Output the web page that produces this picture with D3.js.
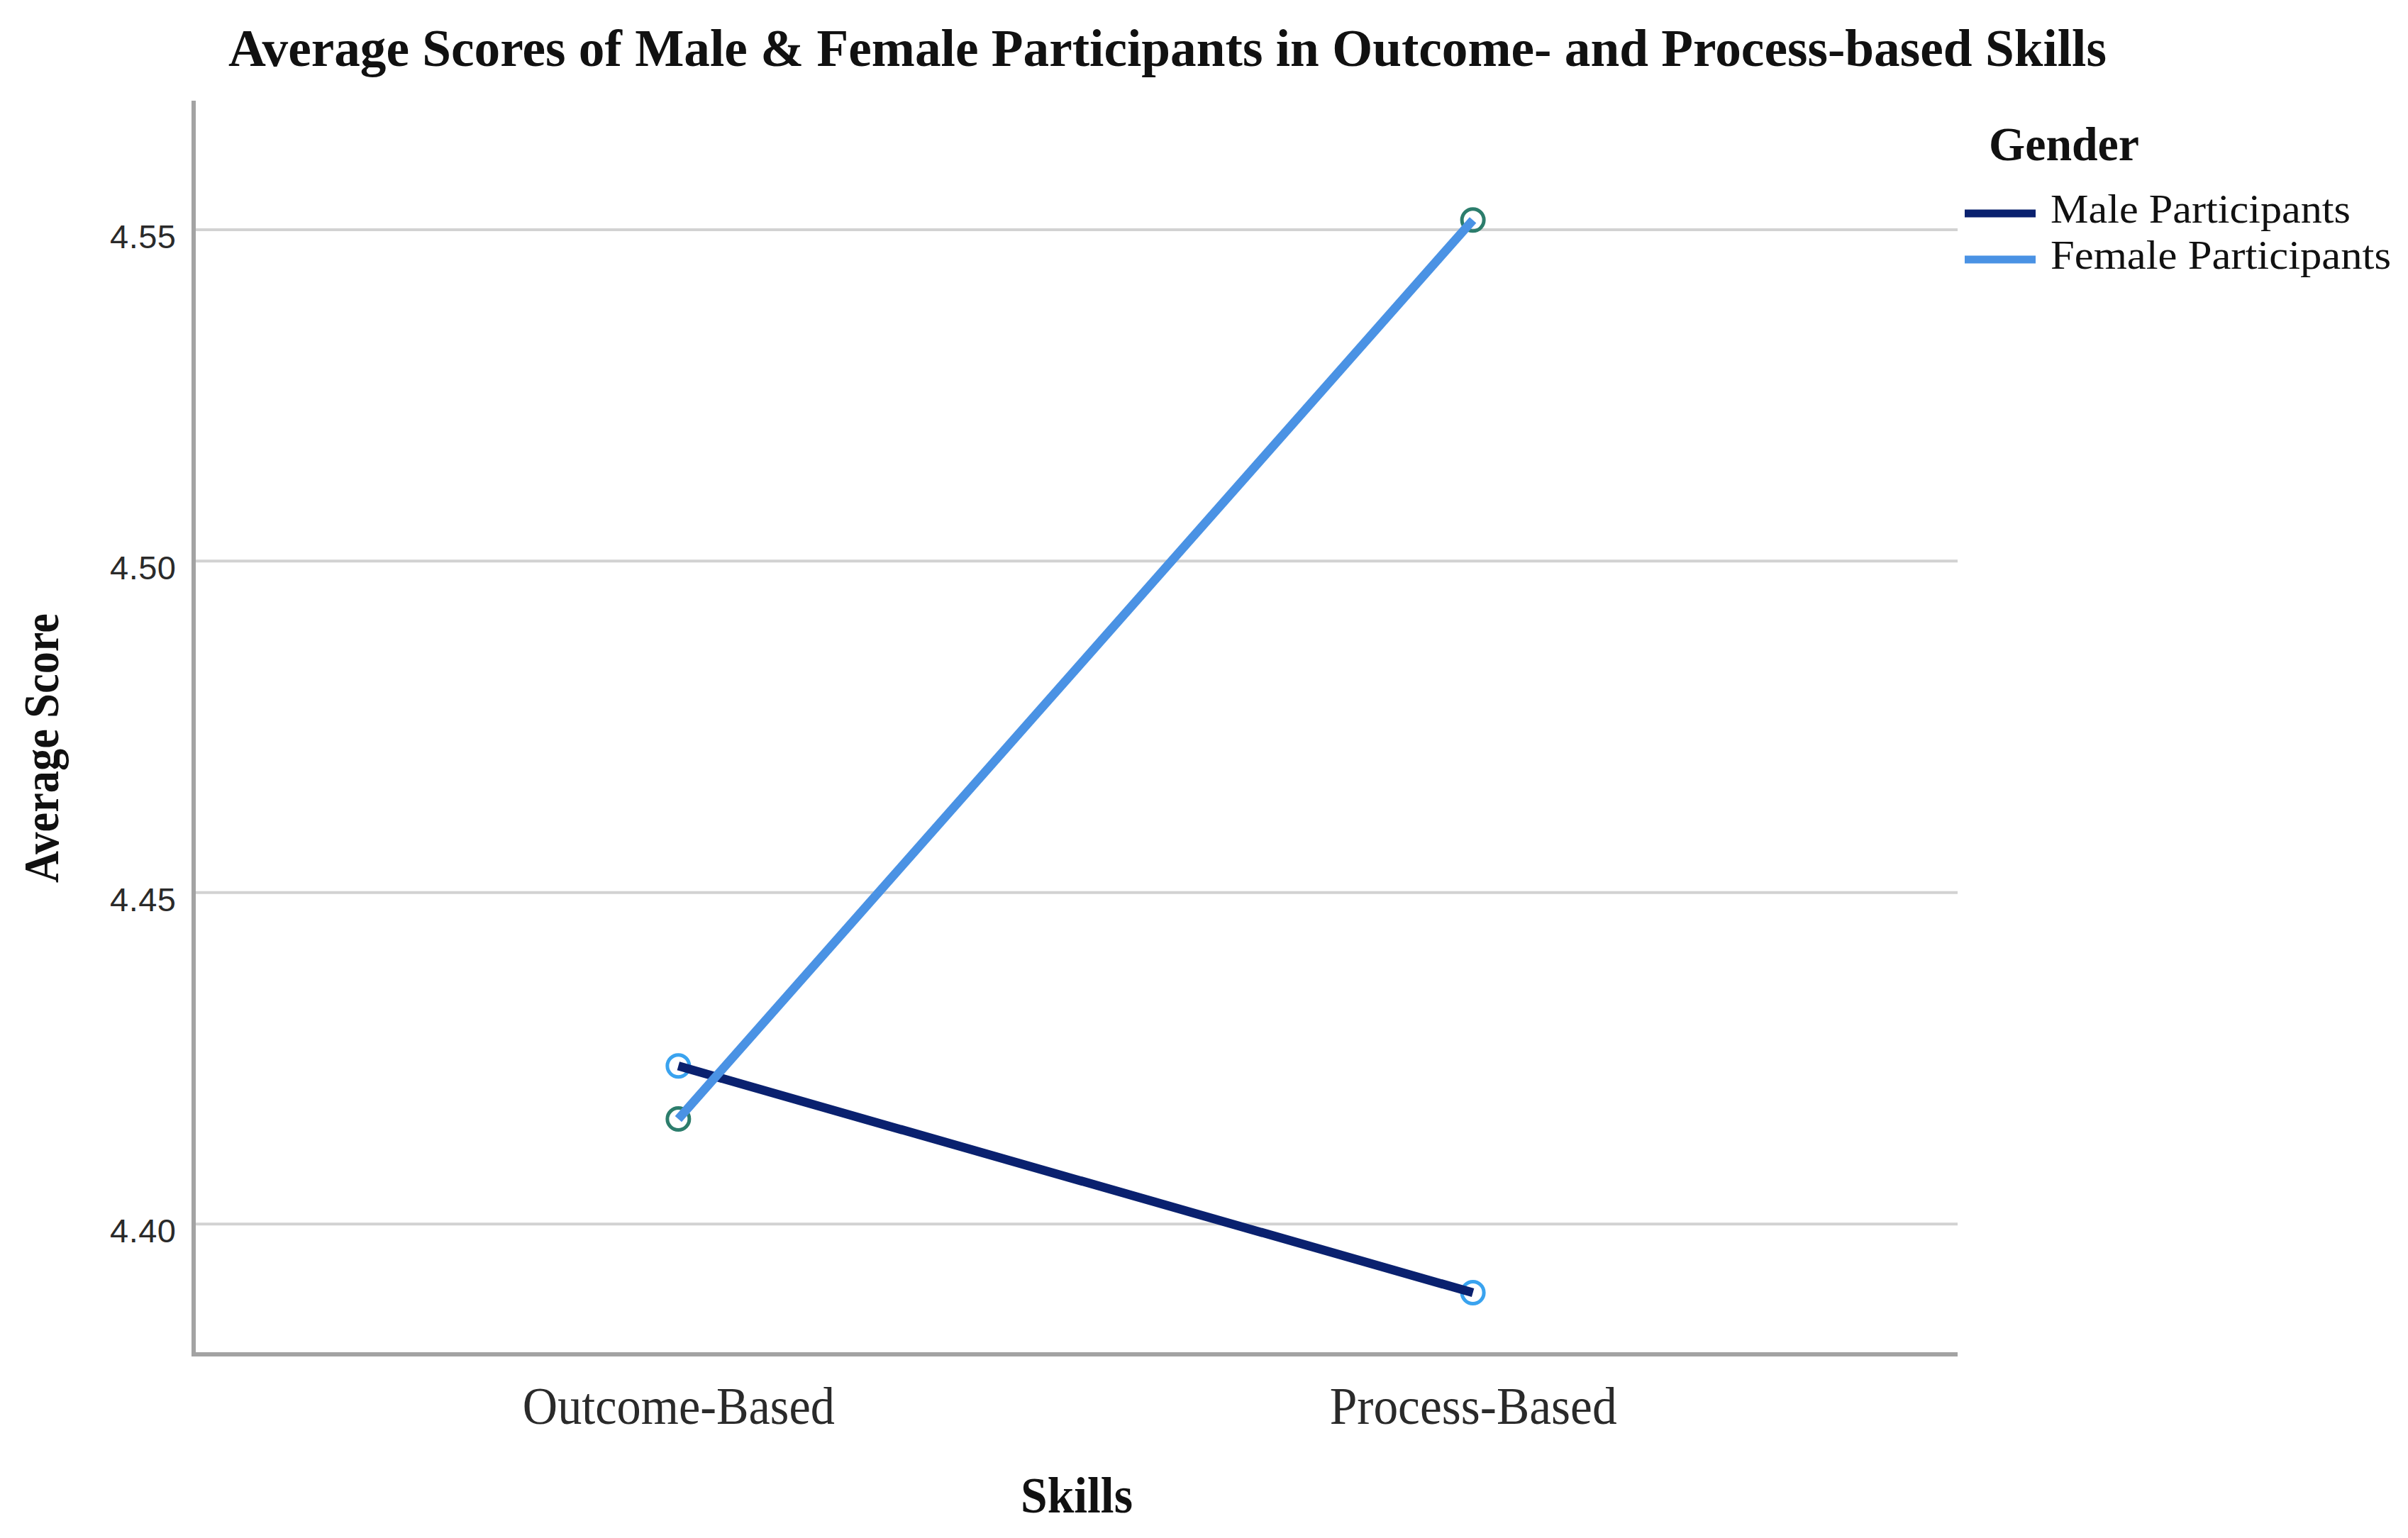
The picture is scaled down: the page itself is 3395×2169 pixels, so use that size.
<!DOCTYPE html>
<html>
<head>
<meta charset="utf-8">
<script src="https://cdn.jsdelivr.net/npm/d3@7/dist/d3.min.js"></script>
<style>
  html, body { margin: 0; padding: 0; background: #ffffff; }
  svg { display: block; }
</style>
</head>
<body>
<script>
// ---- Data ----
const categories = ["Outcome-Based", "Process-Based"];
const seriesNames = ["Male Participants", "Female Participants"];
const maleScores = [4.4238, 4.3896];
const femaleScores = [4.4158, 4.5514];
const yTicks = [4.40, 4.45, 4.50, 4.55];
const yDomain = [4.3803, 4.5694];

const chartTitle = "Average Scores of Male & Female Participants in Outcome- and Process-based Skills";
const xTitle = "Skills";
const yTitle = "Average Score";
const legendTitle = "Gender";

// ---- Layout ----
const W = 3395, H = 2169;
const plot = { left: 273, right: 2760, top: 142, bottom: 1910 };
const lineColors = ["#0a216f", "#4a92e4"];
const markerColors = ["#3aa3ef", "#2c7d6c"];
const serif = "'Liberation Serif', 'Times New Roman', serif";
const xLabelWidths = [440, 405];

const svg = d3.select("body").append("svg")
  .attr("width", W).attr("height", H);

const x = d3.scalePoint().domain(categories).range([plot.left, plot.right]).padding(0.61);
const y = d3.scaleLinear().domain(yDomain).range([plot.bottom, plot.top]);

// gridlines
const grid = svg.append("g")
  .attr("transform", `translate(${plot.left},0)`)
  .call(d3.axisLeft(y).tickValues(yTicks).tickSize(-(plot.right - plot.left)).tickFormat(""));
grid.select(".domain").remove();
grid.selectAll(".tick line").attr("stroke", "#d2d2d2").attr("stroke-width", 4);

// y tick labels
const yAx = svg.append("g")
  .attr("transform", `translate(${plot.left - 25},0)`)
  .call(d3.axisLeft(y).tickValues(yTicks).tickSize(0).tickFormat(d3.format(".2f")));
yAx.select(".domain").remove();
yAx.selectAll(".tick text")
  .attr("x", 0).attr("dy", 0).attr("y", 26)
  .attr("text-anchor", "end")
  .attr("textLength", 93).attr("lengthAdjust", "spacing")
  .style("font-family", "'Liberation Sans', Arial, sans-serif")
  .style("font-size", "47px")
  .attr("fill", "#2a2a2a");

// axes lines
svg.append("line")
  .attr("x1", plot.left).attr("x2", plot.left)
  .attr("y1", plot.top).attr("y2", plot.bottom + 2)
  .attr("stroke", "#a3a3a3").attr("stroke-width", 6);
svg.append("line")
  .attr("x1", plot.left - 3).attr("x2", plot.right)
  .attr("y1", plot.bottom).attr("y2", plot.bottom)
  .attr("stroke", "#a3a3a3").attr("stroke-width", 6);

// x tick labels
const xAx = svg.append("g")
  .attr("transform", `translate(0,${plot.bottom})`)
  .call(d3.axisBottom(x).tickSize(0));
xAx.select(".domain").remove();
xAx.selectAll(".tick text")
  .attr("y", 98).attr("dy", 0)
  .attr("text-anchor", "middle")
  .attr("textLength", (d, i) => xLabelWidths[i]).attr("lengthAdjust", "spacingAndGlyphs")
  .style("font-family", serif)
  .style("font-size", "74px")
  .attr("fill", "#2a2a2a");

// series
const series = [maleScores, femaleScores].map((vals, i) => ({
  name: seriesNames[i],
  color: lineColors[i],
  marker: markerColors[i],
  points: vals.map((v, j) => ({ cat: categories[j], v }))
}));

const line = d3.line().x(d => x(d.cat)).y(d => y(d.v));

// markers first (lines drawn over them)
series.forEach(s => {
  svg.append("g").selectAll("circle")
    .data(s.points).enter().append("circle")
    .attr("cx", d => x(d.cat)).attr("cy", d => y(d.v))
    .attr("r", 15.5)
    .attr("fill", "none")
    .attr("stroke", s.marker).attr("stroke-width", 5);
});
series.forEach(s => {
  svg.append("path")
    .datum(s.points)
    .attr("d", line)
    .attr("fill", "none")
    .attr("stroke", s.color)
    .attr("stroke-width", 12.5);
});

// title
svg.append("text")
  .attr("x", 1646).attr("y", 93)
  .attr("text-anchor", "middle")
  .attr("textLength", 2648).attr("lengthAdjust", "spacingAndGlyphs")
  .style("font-family", serif).style("font-weight", "bold").style("font-size", "74px")
  .attr("fill", "#111")
  .text(chartTitle);

// x axis title
svg.append("text")
  .attr("x", 1518).attr("y", 2133)
  .attr("text-anchor", "middle")
  .attr("textLength", 158).attr("lengthAdjust", "spacingAndGlyphs")
  .style("font-family", serif).style("font-weight", "bold").style("font-size", "72px")
  .attr("fill", "#111")
  .text(xTitle);

// y axis title
svg.append("text")
  .attr("transform", "translate(82,1055) rotate(-90)")
  .attr("text-anchor", "middle")
  .attr("textLength", 380).attr("lengthAdjust", "spacingAndGlyphs")
  .style("font-family", serif).style("font-weight", "bold").style("font-size", "70px")
  .attr("fill", "#111")
  .text(yTitle);

// legend
const lg = svg.append("g");
lg.append("text")
  .attr("x", 2804).attr("y", 226)
  .attr("textLength", 212).attr("lengthAdjust", "spacingAndGlyphs")
  .style("font-family", serif).style("font-weight", "bold").style("font-size", "68px")
  .attr("fill", "#111")
  .text(legendTitle);
const legendWidths = [423, 480];
series.forEach((s, i) => {
  const ly = 301 + i * 65;
  lg.append("line")
    .attr("x1", 2770).attr("x2", 2870)
    .attr("y1", ly).attr("y2", ly)
    .attr("stroke", s.color).attr("stroke-width", 11);
  lg.append("text")
    .attr("x", 2891).attr("y", ly + 13)
    .attr("textLength", legendWidths[i]).attr("lengthAdjust", "spacingAndGlyphs")
    .style("font-family", serif).style("font-size", "56px")
    .attr("fill", "#111")
    .text(s.name);
});
</script>
</body>
</html>
